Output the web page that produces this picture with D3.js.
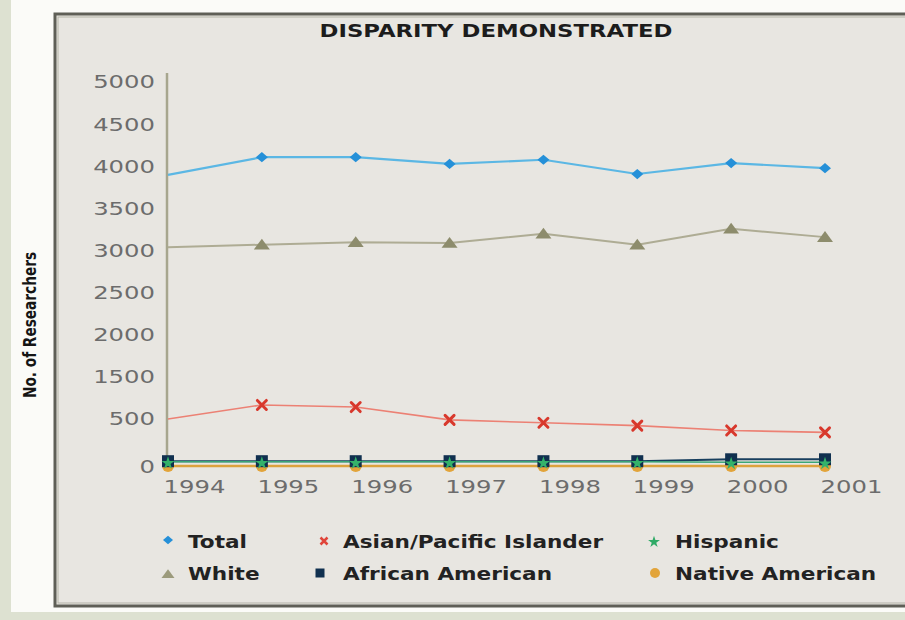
<!DOCTYPE html>
<html>
<head>
<meta charset="utf-8">
<script src="https://cdn.jsdelivr.net/npm/d3@7"></script>
<style>
  html, body { margin: 0; padding: 0; background: #fafaf7; }
  svg { display: block; }
</style>
</head>
<body>
<svg id="chart" width="905" height="620"></svg>
<script>
// Researchers by group, 1994–2001
const years = [1994, 1995, 1996, 1997, 1998, 1999, 2000, 2001];
const total = [3890, 4100, 4100, 4020, 4070, 3900, 4030, 3970];
const white = [3030, 3060, 3090, 3080, 3190, 3060, 3250, 3150];
const asianPacific = [490, 810, 760, 480, 450, 420, 370, 350];
const africanAmerican = [50, 50, 50, 50, 50, 50, 70, 70];
const hispanic = [45, 45, 45, 45, 45, 45, 40, 40];
const nativeAmerican = [0, 0, 0, 0, 0, 0, 0, 0];

// The value axis is labelled 5000 … 1500, 500, 0 at equal steps
const yTickValues = [5000, 4500, 4000, 3500, 3000, 2500, 2000, 1500, 500, 0];
const yDomainBreaks = [0, 500, 1500, 5000];

const title = "DISPARITY DEMONSTRATED";
const yTitle = "No. of Researchers";

const svg = d3.select("#chart");
const W = 905, H = 620;

// page, side strip and framed panel
svg.append("rect").attr("width", W).attr("height", H).attr("fill", "#dde1d1");
svg.append("rect").attr("x", 11).attr("y", 0).attr("width", W - 11).attr("height", 612).attr("fill", "#fbfbf8");
svg.append("rect").attr("x", 55).attr("y", 14).attr("width", W).attr("height", 592)
  .attr("fill", "#e8e6e1").attr("stroke", "#5f5f57").attr("stroke-width", 3);
svg.append("rect").attr("x", 58).attr("y", 17).attr("width", W).attr("height", 586)
  .attr("fill", "none").attr("stroke", "#b4b3a8").attr("stroke-width", 1);

// horizontal stretch of glyphs so the lettering keeps its wide look
function stretch(sel, k) {
  sel.each(function () {
    const w = this.getComputedTextLength();
    this.setAttribute("textLength", w * k);
    this.setAttribute("lengthAdjust", "spacingAndGlyphs");
  });
}

// scales
const x = d3.scaleLinear().domain([1994, 2001]).range([168, 825]);
const yTop = 81.5, yStep = 42.06, yZero = 466;
const y = d3.scaleLinear()
  .domain(yDomainBreaks)
  .range([yZero, yTop + 8 * yStep, yTop + 7 * yStep, yTop]);

// title
svg.append("text")
  .attr("x", 496).attr("y", 37)
  .attr("text-anchor", "middle")
  .attr("font-family", "DejaVu Sans")
  .attr("font-weight", "bold")
  .attr("font-size", 17)
  .attr("fill", "#1c1c1c")
  .text(title)
  .call(stretch, 1.34);

// y axis title, outside the panel
svg.append("text")
  .attr("transform", "translate(36,325) rotate(-90)")
  .attr("text-anchor", "middle")
  .attr("font-family", "DejaVu Sans")
  .attr("font-weight", "bold")
  .attr("font-size", 18)
  .attr("fill", "#151515")
  .text(yTitle)
  .call(stretch, 0.76);

// y axis
const yAxis = d3.axisLeft(y).tickValues(yTickValues).tickSize(0).tickPadding(0).tickFormat(d3.format("d"));
const gy = svg.append("g").attr("transform", "translate(155,0)").call(yAxis);
gy.select(".domain").remove();
gy.selectAll("text")
  .attr("font-family", "DejaVu Sans")
  .attr("font-size", 18)
  .attr("fill", "#6c6c6c")
  .attr("dy", "0.36em")
  .call(stretch, 1.35);

svg.append("line")
  .attr("x1", 167).attr("x2", 167)
  .attr("y1", 73).attr("y2", yZero)
  .attr("stroke", "#a7a68e").attr("stroke-width", 2.5);

// x axis labels (set a little right of each year's points)
const xAxis = d3.axisBottom(x).tickValues(years).tickSize(0).tickPadding(0).tickFormat(d3.format("d"));
const gx = svg.append("g").attr("transform", "translate(26,480)").call(xAxis);
gx.select(".domain").remove();
gx.selectAll("text")
  .attr("font-family", "DejaVu Sans")
  .attr("font-size", 18)
  .attr("fill", "#6c6c6c")
  .attr("dy", "0.71em")
  .call(stretch, 1.35);

// marker shapes
const shapes = {
  diamond: (s) => `M${-s},0L0,${-s * 0.85}L${s},0L0,${s * 0.85}Z`,
  triangle: (s) => `M0,${-s * 0.75}L${s},${s * 0.6}L${-s},${s * 0.6}Z`,
  cross: (s) => `M${-s},${-s}L${s},${s}M${-s},${s}L${s},${-s}`,
  square: (s) => `M${-s},${-s}H${s}V${s}H${-s}Z`,
  star: (s) => d3.symbol(d3.symbolStar, s * s * 3)(),
  circle: (s) => d3.symbol(d3.symbolCircle, Math.PI * s * s)()
};

const series = [
  { name: "Native American", values: nativeAmerican, line: "#dca23c", lw: 2.5, mark: "circle", size: 6, fill: "#e2a43a", first: true },
  { name: "African American", values: africanAmerican, line: "#183f5e", lw: 2, mark: "square", size: 6, fill: "#10304f", first: true },
  { name: "Hispanic", values: hispanic, line: "#3aa677", lw: 1.5, mark: "star", size: 4.2, fill: "#34b26a", first: true },
  { name: "Asian/Pacific Islander", values: asianPacific, line: "#ec8174", lw: 1.6, mark: "cross", size: 4.5, stroke: "#d8382c", first: false },
  { name: "White", values: white, line: "#aeac94", lw: 2, mark: "triangle", size: 8, fill: "#8d8c6c", first: false },
  { name: "Total", values: total, line: "#5bb7e4", lw: 2.2, mark: "diamond", size: 6, fill: "#2590d8", first: false }
];

const line = d3.line().x((d, i) => x(years[i])).y(d => y(d));

series.forEach(s => {
  svg.append("path")
    .attr("d", line(s.values))
    .attr("fill", "none")
    .attr("stroke", s.line)
    .attr("stroke-width", s.lw)
    .attr("stroke-linejoin", "round");
});

series.forEach(s => {
  const pts = s.values.map((v, i) => ({ v, i })).filter(p => s.first || p.i > 0);
  svg.append("g").selectAll("path").data(pts).join("path")
    .attr("transform", p => `translate(${x(years[p.i])},${y(p.v) + (s.mark === "star" ? 1.5 : 0)})`)
    .attr("d", shapes[s.mark](s.size))
    .attr("fill", s.fill || "none")
    .attr("stroke", s.stroke || "none")
    .attr("stroke-width", s.stroke ? 3 : 0)
    .attr("stroke-linecap", "round");
});

// legend
const legendItems = [
  { label: "Total", mark: "diamond", size: 5, fill: "#2590d8", lx: 168, ly: 540, tx: 188, ty: 548 },
  { label: "Asian/Pacific Islander", mark: "cross", size: 3.5, stroke: "#e0453a", lx: 324, ly: 541, tx: 343, ty: 548 },
  { label: "Hispanic", mark: "star", size: 3.8, fill: "#2faa66", lx: 654, ly: 542, tx: 675, ty: 548 },
  { label: "White", mark: "triangle", size: 6.5, fill: "#9c9b7c", lx: 168, ly: 574, tx: 188, ty: 580 },
  { label: "African American", mark: "square", size: 4.5, fill: "#10304f", lx: 320, ly: 573, tx: 343, ty: 580 },
  { label: "Native American", mark: "circle", size: 5, fill: "#e2a43a", lx: 655, ly: 573, tx: 675, ty: 580 }
];

const lg = svg.append("g");
legendItems.forEach(it => {
  lg.append("path")
    .attr("transform", `translate(${it.lx},${it.ly})`)
    .attr("d", shapes[it.mark](it.size))
    .attr("fill", it.fill || "none")
    .attr("stroke", it.stroke || "none")
    .attr("stroke-width", it.stroke ? 2.5 : 0);
  lg.append("text")
    .attr("x", it.tx).attr("y", it.ty)
    .attr("font-family", "DejaVu Sans")
    .attr("font-weight", "bold")
    .attr("font-size", 17)
    .attr("fill", "#222")
    .text(it.label)
    .call(stretch, 1.27);
});
</script>
</body>
</html>
